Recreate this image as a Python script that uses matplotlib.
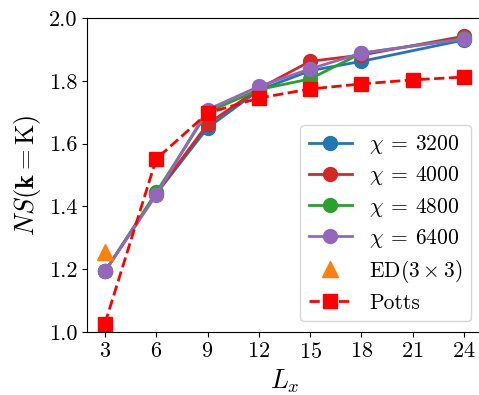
import matplotlib
matplotlib.use('Agg')
import matplotlib.pyplot as plt

plt.rcParams['font.family'] = 'serif'
plt.rcParams['font.serif'] = ['cmr10']
plt.rcParams['mathtext.fontset'] = 'cm'
plt.rcParams['axes.formatter.use_mathtext'] = True

# data
Lx = [3, 6, 9, 12, 15, 18, 24]
ns_3200 = [1.193, 1.440, 1.650, 1.770, 1.832, 1.862, 1.930]
ns_4000 = [1.193, 1.442, 1.662, 1.775, 1.862, 1.882, 1.942]
ns_4800 = [1.193, 1.445, 1.700, 1.772, 1.806, 1.888, 1.935]
ns_6400 = [1.193, 1.437, 1.708, 1.782, 1.838, 1.888, 1.933]

ed_x = [3]
ed_y = [1.255]

potts_x = [3, 6, 9, 12, 15, 18, 21, 24]
potts_y = [1.027, 1.551, 1.697, 1.745, 1.774, 1.790, 1.803, 1.812]

fig = plt.figure(figsize=(4.79, 3.95), dpi=100)
ax = fig.add_axes([87/479, 63/395, 395/479, 314/395])

ax.plot(Lx, ns_3200, '-o', color='tab:blue', lw=2, ms=10, label=r'$\chi\:=\:3200$')
ax.plot(Lx, ns_4000, '-o', color='tab:red', lw=2, ms=10, label=r'$\chi\:=\:4000$')
ax.plot(Lx, ns_4800, '-o', color='tab:green', lw=2, ms=10, label=r'$\chi\:=\:4800$')
ax.plot(Lx, ns_6400, '-o', color='tab:purple', lw=2, ms=10, label=r'$\chi\:=\:6400$')
ax.plot(ed_x, ed_y, '^', color='tab:orange', ms=12, label=r'$\mathrm{ED}(3\times 3)$')
ax.plot(potts_x, potts_y, '--s', color='red', lw=2, ms=10, label='Potts')

ax.set_ylim(1.0, 2.0)
ax.set_xticks([3, 6, 9, 12, 15, 18, 21, 24])
ax.set_yticks([1.0, 1.2, 1.4, 1.6, 1.8, 2.0])
ax.set_yticklabels(['1.0', '1.2', '1.4', '1.6', '1.8', '2.0'])
ax.tick_params(labelsize=16)
ax.set_xlabel(r'$L_x$', fontsize=19)
ax.set_ylabel(r'$NS(\mathbf{k}=\mathrm{K})$', fontsize=19)
ax.legend(loc='lower right', fontsize=15.5, labelspacing=0.38)

plt.savefig('out.png', dpi=100)
